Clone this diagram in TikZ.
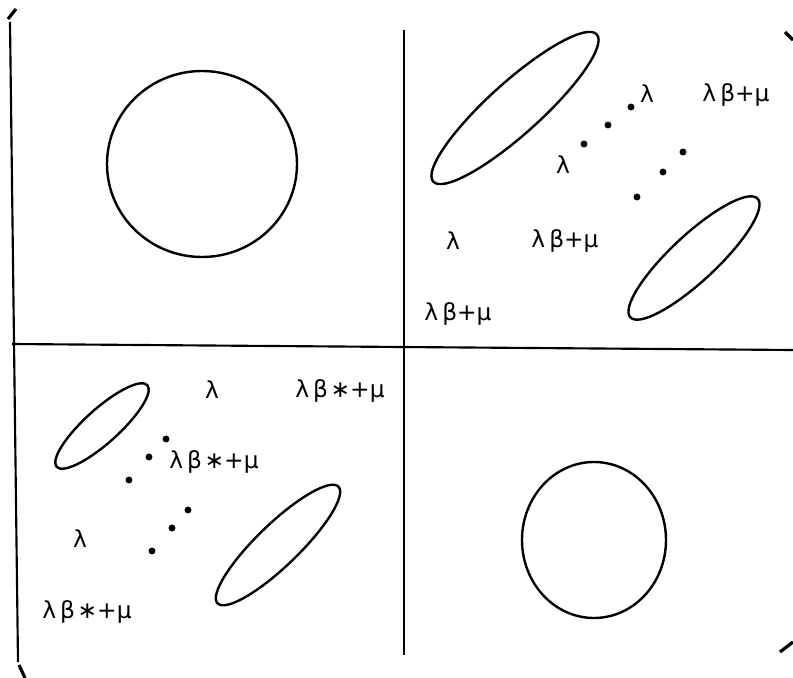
\documentclass[tikz,border=0pt]{standalone}
\usepackage{fontspec}
\newfontfamily\lab{DejaVu Sans}
\begin{document}
\begin{tikzpicture}[x=0.75pt,y=-0.75pt,line width=1.6pt,
  lbl/.style={font=\lab\fontsize{17.5}{20}\selectfont,inner sep=0pt},
  dotm/.style={fill=black,circle,inner sep=0pt,minimum size=5.2pt,draw=none},
  curve/.style={line width=1.8pt},
  tick/.style={line width=2.4pt}]
\useasboundingbox (0,0) rectangle (793,678);
% frame lines
\coordinate (lt) at (10,22); \coordinate (lb) at (18,662);
\draw (lt) -- (lb);
\coordinate (tk1a) at (8,19); \coordinate (tk1b) at (16,9);
\draw[tick] (tk1a) -- (tk1b);
\coordinate (tk2a) at (19,665); \coordinate (tk2b) at (25,678);
\draw[tick] (tk2a) -- (tk2b);
\coordinate (tk3a) at (785,32); \coordinate (tk3b) at (793,40);
\draw[tick] (tk3a) -- (tk3b);
\coordinate (tk4a) at (780,652); \coordinate (tk4b) at (793,642);
\draw[tick] (tk4a) -- (tk4b);
\coordinate (hl) at (12,344); \coordinate (hr) at (793,350);
\draw (hl) -- (hr);
\coordinate (vt) at (404,30); \coordinate (vb) at (404,655);
\draw (vt) -- (vb);
% circles
\draw[curve] (202,164) ellipse [x radius=95, y radius=93];
\draw[curve] (594,540) ellipse [x radius=72, y radius=78];
% ellipses top right
\begin{scope}[shift={(515,108)},rotate=42]
\draw[curve] (0,0) ellipse [x radius=110, y radius=26];
\end{scope}
\begin{scope}[shift={(694,258)},rotate=43]
\draw[curve] (0,0) ellipse [x radius=87, y radius=23];
\end{scope}
% ellipses bottom left
\begin{scope}[shift={(102,426)},rotate=42]
\draw[curve] (0,0) ellipse [x radius=61, y radius=17];
\end{scope}
\begin{scope}[shift={(278,545)},rotate=44]
\draw[curve] (0,0) ellipse [x radius=84, y radius=21];
\end{scope}
% dots top right
\node[dotm] (d1) at (584,144) {};
\node[dotm] (d2) at (608,125) {};
\node[dotm] (d3) at (631,107) {};
\node[dotm] (d4) at (683,152) {};
\node[dotm] (d5) at (663,172) {};
\node[dotm] (d6) at (637,197) {};
% dots bottom left
\node[dotm] (e1) at (166,439) {};
\node[dotm] (e2) at (149,457) {};
\node[dotm] (e3) at (129,480) {};
\node[dotm] (e4) at (188,510) {};
\node[dotm] (e5) at (172,528) {};
\node[dotm] (e6) at (152,551) {};
% labels top right
\node[lbl] (a1) at (647,94) {λ};
\node[lbl] (a2) at (736,95) {λ\hspace{3pt}β+μ};
\node[lbl] (a3) at (563,165) {λ};
\node[lbl] (a4) at (453,241) {λ};
\node[lbl] (a5) at (565,241) {λ\hspace{3pt}β+μ};
\node[lbl] (a6) at (458,314) {λ\hspace{3pt}β+μ};
% labels bottom left
\node[lbl] (b1) at (212,390) {λ};
\node[lbl] (b2) at (340,391) {λ\hspace{3pt}β\hspace{2pt}∗+μ};
\node[lbl] (b3) at (214,462) {λ\hspace{3pt}β\hspace{2pt}∗+μ};
\node[lbl] (b4) at (80,539) {λ};
\node[lbl] (b5) at (87,612) {λ\hspace{3pt}β\hspace{2pt}∗+μ};
\end{tikzpicture}
\end{document}
